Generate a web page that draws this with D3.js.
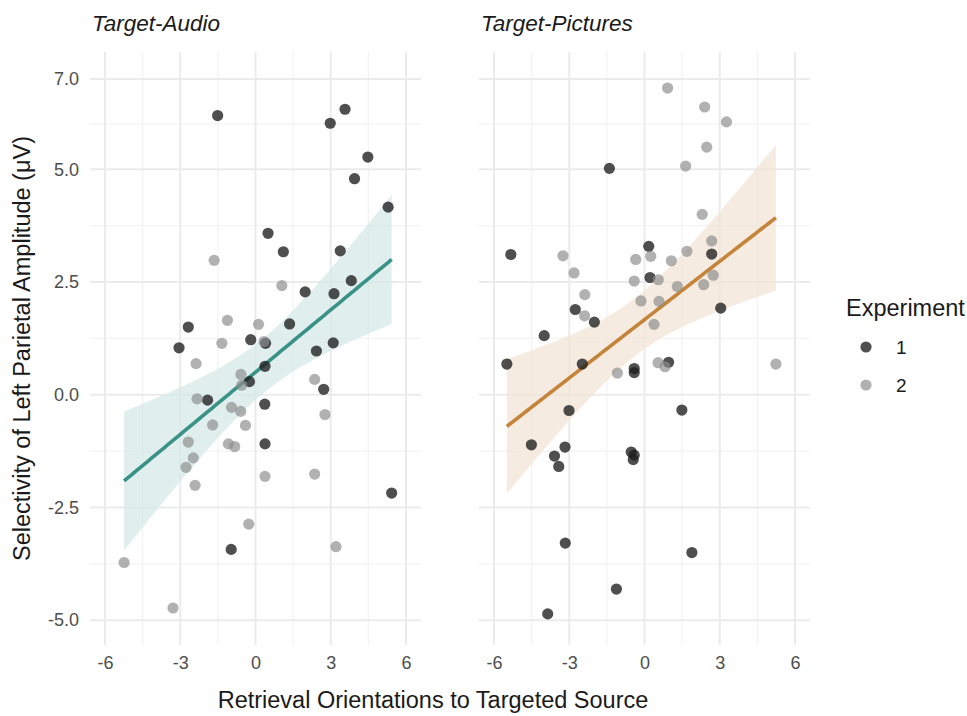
<!DOCTYPE html>
<html>
<head>
<meta charset="utf-8">
<script src="https://cdn.jsdelivr.net/npm/d3@7"></script>
<style>
  html, body { margin: 0; padding: 0; background: #fff; }
  svg text { font-family: "Liberation Sans", Arial, Helvetica, sans-serif; }
</style>
</head>
<body>
<svg id="chart" width="967" height="716"></svg>
<script>
// Panels (facets)
const panels = ["Target-Audio", "Target-Pictures"];
const lineColors = ["#3a9186", "#c4843a"];
const ribbonColors = ["#d6e8e8", "#f1e4d5"];

// Tick labels
const xTicks = [-6, -3, 0, 3, 6];
const xTickLabels = ["-6", "-3", "0", "3", "6"];
const yTicks = [-5, -2.5, 0, 2.5, 5, 7];
const yTickLabels = ["-5.0", "-2.5", "0.0", "2.5", "5.0", "7.0"];
const experiments = ["1", "2"];

// Target-Audio, experiment 1: [orientation, selectivity]
const audioExp1 = [
  [-1.51, 6.19], [3.57, 6.33], [2.98, 6.02], [4.48, 5.27], [3.95, 4.79],
  [5.29, 4.16], [0.50, 3.58], [1.11, 3.17], [3.38, 3.19], [3.82, 2.53],
  [1.98, 2.28], [3.13, 2.24], [-2.68, 1.50], [-3.05, 1.04], [-0.19, 1.22],
  [0.40, 1.14], [1.36, 1.57], [2.43, 0.97], [3.10, 1.15], [0.38, 0.63],
  [-0.24, 0.29], [-1.91, -0.12], [2.72, 0.12], [0.37, -0.21], [0.38, -1.09],
  [5.43, -2.18], [-0.97, -3.43]
];
// Target-Audio, experiment 2
const audioExp2 = [
  [-1.65, 2.98], [1.05, 2.42], [-1.12, 1.65], [0.12, 1.56], [-1.34, 1.14],
  [0.34, 1.18], [-2.37, 0.69], [-0.58, 0.45], [-0.55, 0.21], [-2.33, -0.09],
  [-0.96, -0.28], [-0.59, -0.37], [2.36, 0.34], [2.77, -0.44], [-1.71, -0.67],
  [-0.40, -0.68], [-2.68, -1.05], [-1.08, -1.09], [-0.83, -1.15], [-2.48, -1.40],
  [-2.77, -1.61], [-2.41, -2.01], [0.38, -1.81], [2.36, -1.76], [-0.27, -2.87],
  [3.21, -3.37], [-5.24, -3.72], [-3.29, -4.73]
];
// Target-Pictures, experiment 1
const picturesExp1 = [
  [-5.33, 3.11], [-1.40, 5.02], [0.17, 3.29], [2.68, 3.12], [0.22, 2.60],
  [-2.76, 1.89], [-2.00, 1.61], [-4.00, 1.31], [3.04, 1.92], [-5.49, 0.68],
  [-2.48, 0.68], [-0.41, 0.58], [-0.41, 0.49], [0.96, 0.72], [-3.01, -0.35],
  [1.49, -0.34], [-4.51, -1.11], [-3.17, -1.16], [-3.59, -1.36], [-3.42, -1.59],
  [-0.53, -1.27], [-0.41, -1.34], [-0.45, -1.44], [-3.16, -3.29], [1.89, -3.50],
  [-1.12, -4.31], [-3.86, -4.86]
];
// Target-Pictures, experiment 2
const picturesExp2 = [
  [0.92, 6.80], [2.40, 6.38], [3.27, 6.05], [2.48, 5.49], [1.64, 5.07],
  [2.30, 4.00], [-3.25, 3.08], [2.68, 3.41], [1.69, 3.18], [-0.35, 3.00],
  [0.25, 3.07], [1.07, 2.97], [-2.81, 2.70], [2.74, 2.65], [0.55, 2.55],
  [-0.41, 2.52], [1.31, 2.40], [2.36, 2.44], [-2.38, 2.22], [-0.14, 2.08],
  [0.58, 2.07], [-2.39, 1.75], [0.38, 1.56], [-1.08, 0.48], [0.54, 0.71],
  [0.82, 0.62], [5.24, 0.68]
];

const panelData = [
  { exp1: audioExp1, exp2: audioExp2 },
  { exp1: picturesExp1, exp2: picturesExp2 }
];

const svg = d3.select("#chart");
const W = 967, H = 716;
svg.append("rect").attr("width", W).attr("height", H).attr("fill", "#fff");

const panelTop = 52, panelBottom = 645;
const panelLefts = [90, 479];
const panelWidth = 331;

const y = d3.scaleLinear().domain([-5.55, 7.6]).range([panelBottom, panelTop]);
const gridColor = "#ebebeb";
const minorColor = "#f3f3f3";
const textFont = "Liberation Sans, Arial, sans-serif";

// Student t quantile (two-sided 95%) via bisection on the t CDF
function tCdf(t, df) {
  const x = df / (df + t * t);
  const ib = incBeta(x, df / 2, 0.5);
  return t > 0 ? 1 - 0.5 * ib : 0.5 * ib;
}
function lgamma(z) {
  const c = [76.18009172947146, -86.50532032941677, 24.01409824083091,
    -1.231739572450155, 0.1208650973866179e-2, -0.5395239384953e-5];
  let x = z, yy = z, tmp = x + 5.5;
  tmp -= (x + 0.5) * Math.log(tmp);
  let ser = 1.000000000190015;
  for (let j = 0; j < 6; j++) ser += c[j] / ++yy;
  return -tmp + Math.log(2.5066282746310005 * ser / x);
}
function betacf(x, a, b) {
  let qab = a + b, qap = a + 1, qam = a - 1, c = 1, d = 1 - qab * x / qap;
  if (Math.abs(d) < 1e-30) d = 1e-30;
  d = 1 / d; let h = d;
  for (let m = 1; m <= 200; m++) {
    const m2 = 2 * m;
    let aa = m * (b - m) * x / ((qam + m2) * (a + m2));
    d = 1 + aa * d; if (Math.abs(d) < 1e-30) d = 1e-30;
    c = 1 + aa / c; if (Math.abs(c) < 1e-30) c = 1e-30;
    d = 1 / d; h *= d * c;
    aa = -(a + m) * (qab + m) * x / ((a + m2) * (qap + m2));
    d = 1 + aa * d; if (Math.abs(d) < 1e-30) d = 1e-30;
    c = 1 + aa / c; if (Math.abs(c) < 1e-30) c = 1e-30;
    d = 1 / d; const del = d * c; h *= del;
    if (Math.abs(del - 1) < 3e-7) break;
  }
  return h;
}
function incBeta(x, a, b) {
  if (x <= 0) return 0; if (x >= 1) return 1;
  const bt = Math.exp(lgamma(a + b) - lgamma(a) - lgamma(b) + a * Math.log(x) + b * Math.log(1 - x));
  return x < (a + 1) / (a + b + 2) ? bt * betacf(x, a, b) / a : 1 - bt * betacf(1 - x, b, a) / b;
}
function tQuantile(p, df) {
  let lo = 0, hi = 20;
  for (let i = 0; i < 80; i++) {
    const mid = (lo + hi) / 2;
    if (tCdf(mid, df) < p) lo = mid; else hi = mid;
  }
  return (lo + hi) / 2;
}

// Linear model with 95% confidence band, as geom_smooth(method = "lm")
function linearFit(pts) {
  const n = pts.length;
  const mx = d3.mean(pts, d => d[0]), my = d3.mean(pts, d => d[1]);
  const sxx = d3.sum(pts, d => (d[0] - mx) ** 2);
  const sxy = d3.sum(pts, d => (d[0] - mx) * (d[1] - my));
  const b = sxy / sxx, a = my - b * mx;
  const sse = d3.sum(pts, d => (d[1] - a - b * d[0]) ** 2);
  const s = Math.sqrt(sse / (n - 2));
  const tq = tQuantile(0.975, n - 2);
  const [x0, x1] = d3.extent(pts, d => d[0]);
  const grid = d3.range(80).map(i => x0 + (x1 - x0) * i / 79);
  return grid.map(xv => {
    const fit = a + b * xv;
    const se = s * Math.sqrt(1 / n + (xv - mx) ** 2 / sxx);
    return { x: xv, fit, lo: fit - tq * se, hi: fit + tq * se };
  });
}

panels.forEach((name, i) => {
  const left = panelLefts[i];
  const x = d3.scaleLinear().domain([-6.6, 6.6]).range([left, left + panelWidth]);
  const g = svg.append("g");

  // minor grid
  const xMinor = d3.range(-7.5, 7.6, 3);
  const yMinor = [-3.75, -1.25, 1.25, 3.75, 6];
  g.selectAll(".xmin").data(xMinor.filter(v => v > -6.6 && v < 6.6)).join("line")
    .attr("x1", d => x(d)).attr("x2", d => x(d))
    .attr("y1", panelTop).attr("y2", panelBottom)
    .attr("stroke", minorColor).attr("stroke-width", 1.2);
  g.selectAll(".ymin").data(yMinor).join("line")
    .attr("x1", left).attr("x2", left + panelWidth)
    .attr("y1", d => y(d)).attr("y2", d => y(d))
    .attr("stroke", minorColor).attr("stroke-width", 1.2);
  // major grid
  g.selectAll(".xmaj").data(xTicks).join("line")
    .attr("x1", d => x(d)).attr("x2", d => x(d))
    .attr("y1", panelTop).attr("y2", panelBottom)
    .attr("stroke", gridColor).attr("stroke-width", 2);
  g.selectAll(".ymaj").data(yTicks).join("line")
    .attr("x1", left).attr("x2", left + panelWidth)
    .attr("y1", d => y(d)).attr("y2", d => y(d))
    .attr("stroke", gridColor).attr("stroke-width", 2);

  // x axis tick labels
  const xAxis = d3.axisBottom(x).tickValues(xTicks).tickSize(0).tickPadding(0)
    .tickFormat((d, k) => xTickLabels[k]);
  const ax = svg.append("g").attr("transform", `translate(0,${panelBottom + 11})`).call(xAxis);
  ax.select(".domain").remove();
  ax.selectAll("text").attr("font-size", 18).attr("fill", "#4d4d4d").attr("dy", "0.71em")
    .attr("font-family", textFont);

  // smooth
  const all = panelData[i].exp1.concat(panelData[i].exp2);
  const band = linearFit(all);
  g.append("path").datum(band)
    .attr("d", d3.area().x(d => x(d.x)).y0(d => y(d.lo)).y1(d => y(d.hi)))
    .attr("fill", ribbonColors[i]).attr("opacity", 0.75);
  g.append("path").datum(band)
    .attr("d", d3.line().x(d => x(d.x)).y(d => y(d.fit)))
    .attr("fill", "none").attr("stroke", lineColors[i]).attr("stroke-width", 3.6);

  // points
  g.selectAll(".p1").data(panelData[i].exp1).join("circle")
    .attr("cx", d => x(d[0])).attr("cy", d => y(d[1])).attr("r", 5.6)
    .attr("fill", "#1e1e1e").attr("fill-opacity", 0.78);
  g.selectAll(".p2").data(panelData[i].exp2).join("circle")
    .attr("cx", d => x(d[0])).attr("cy", d => y(d[1])).attr("r", 5.6)
    .attr("fill", "#8c8c8c").attr("fill-opacity", 0.68);

  // strip title
  svg.append("text").attr("x", left + 2).attr("y", 31)
    .attr("font-size", 22.5).attr("font-style", "italic").attr("fill", "#1a1a1a")
    .text(name);
});

// y axis tick labels
const yAxis = d3.axisLeft(y).tickValues(yTicks).tickSize(0).tickPadding(0)
  .tickFormat((d, i) => yTickLabels[i]);
const ay = svg.append("g").attr("transform", `translate(${panelLefts[0] - 11},0)`).call(yAxis);
ay.select(".domain").remove();
ay.selectAll("text").attr("font-size", 18).attr("fill", "#4d4d4d")
  .attr("font-family", textFont);

// axis titles
svg.append("text").attr("x", (panelLefts[0] + panelLefts[1] + panelWidth) / 2 - 17).attr("y", 708)
  .attr("text-anchor", "middle").attr("font-size", 23.5).attr("fill", "#1a1a1a")
  .text("Retrieval Orientations to Targeted Source");
svg.append("text")
  .attr("transform", `translate(30,${(panelTop + panelBottom) / 2}) rotate(-90)`)
  .attr("text-anchor", "middle").attr("font-size", 23.5).attr("fill", "#1a1a1a")
  .text("Selectivity of Left Parietal Amplitude (\u03bcV)");

// legend
const lg = svg.append("g").attr("transform", "translate(846,0)");
lg.append("text").attr("x", 0).attr("y", 316).attr("font-size", 23.5).attr("fill", "#1a1a1a")
  .text("Experiment");
const keyFill = ["#1e1e1e", "#8c8c8c"], keyOp = [0.78, 0.68];
experiments.forEach((e, k) => {
  const cy = 347 + k * 38;
  lg.append("circle").attr("cx", 20).attr("cy", cy).attr("r", 5.6)
    .attr("fill", keyFill[k]).attr("fill-opacity", keyOp[k]);
  lg.append("text").attr("x", 50).attr("y", cy + 7).attr("font-size", 19).attr("fill", "#1a1a1a")
    .text(e);
});
</script>
</body>
</html>
